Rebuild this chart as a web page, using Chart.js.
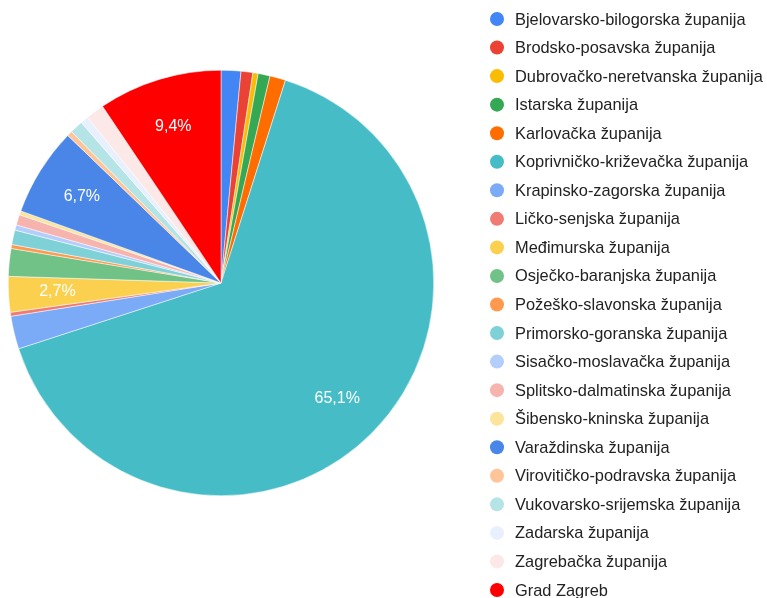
<!DOCTYPE html>
<html>
<head>
<meta charset="utf-8">
<script src="https://cdn.jsdelivr.net/npm/chart.js@4"></script>
<style>
  html, body { margin: 0; padding: 0; background: #fff; }
  #wrap { width: 767px; height: 598px; }
</style>
</head>
<body>
<div id="wrap"><canvas id="myChart" width="767" height="598"></canvas></div>
<script>
// zupanije (categories)
const labels = [
    'Bjelovarsko-bilogorska županija',
    'Brodsko-posavska županija',
    'Dubrovačko-neretvanska županija',
    'Istarska županija',
    'Karlovačka županija',
    'Koprivničko-križevačka županija',
    'Krapinsko-zagorska županija',
    'Ličko-senjska županija',
    'Međimurska županija',
    'Osječko-baranjska županija',
    'Požeško-slavonska županija',
    'Primorsko-goranska županija',
    'Sisačko-moslavačka županija',
    'Splitsko-dalmatinska županija',
    'Šibensko-kninska županija',
    'Varaždinska županija',
    'Virovitičko-podravska županija',
    'Vukovarsko-srijemska županija',
    'Zadarska županija',
    'Zagrebačka županija',
    'Grad Zagreb'
];

// udio u % (procjena sa slike)
const values = [1.5, 0.9, 0.4, 0.9, 1.2, 65.1, 2.5, 0.3, 2.7, 2.1, 0.3, 1.1, 0.4, 0.8, 0.3, 6.7, 0.4, 1.0, 0.6, 1.4, 9.4];

const colors = [
    '#4285f4', '#ea4335', '#fbbc04', '#34a853', '#ff6d01', '#46bdc6', '#7baaf7',
    '#f07b72', '#fcd04f', '#71c287', '#ff994d', '#7ed1d7', '#b3cefb', '#f7b4ae',
    '#fde49b', '#4a86e8', '#ffc599', '#b5e4e7', '#e8f0fe', '#fde8e8', '#ff0000'
];

// labels inside the slices (only for the bigger ones)
const sliceLabels = {
    id: 'sliceLabels',
    afterDatasetsDraw(chart) {
        const ctx = chart.ctx;
        const meta = chart.getDatasetMeta(0);
        const data = chart.data.datasets[0].data;
        const total = data.reduce((a, b) => a + b, 0);
        ctx.save();
        ctx.fillStyle = '#ffffff';
        ctx.font = '16px "Liberation Sans", Arial, sans-serif';
        ctx.textAlign = 'center';
        ctx.textBaseline = 'middle';
        meta.data.forEach((arc, i) => {
            const pct = data[i] / total * 100;
            if (pct < 2.6) return;
            const p = arc.getProps(['x', 'y', 'startAngle', 'endAngle', 'outerRadius'], true);
            const mid = (p.startAngle + p.endAngle) / 2;
            const r = p.outerRadius * 0.77;
            ctx.fillText(pct.toFixed(1).replace('.', ',') + '%', p.x + Math.cos(mid) * r, p.y + Math.sin(mid) * r);
        });
        ctx.restore();
    }
};

// legend on the right, drawn by hand so the rows fit
const sideLegend = {
    id: 'sideLegend',
    afterDraw(chart) {
        const ctx = chart.ctx;
        const ds = chart.data.datasets[0];
        ctx.save();
        ctx.font = '16.4px "Liberation Sans", Arial, sans-serif';
        ctx.textBaseline = 'middle';
        ctx.textAlign = 'left';
        chart.data.labels.forEach((lab, i) => {
            const y = 19 + i * 28.55;
            ctx.beginPath();
            ctx.arc(497, y, 7, 0, Math.PI * 2);
            ctx.fillStyle = ds.backgroundColor[i];
            ctx.fill();
            ctx.fillStyle = '#222222';
            ctx.fillText(lab, 515, y + 1);
        });
        ctx.restore();
    }
};

const ctx = document.getElementById('myChart').getContext('2d');
new Chart(ctx, {
    type: 'pie',
    data: {
        labels: labels,
        datasets: [{
            data: values,
            backgroundColor: colors,
            borderColor: '#ffffff',
            borderWidth: 0.5
        }]
    },
    options: {
        responsive: false,
        animation: false,
        layout: {
            padding: { left: 8, right: 333, top: 70, bottom: 102 }
        },
        plugins: {
            legend: { display: false },
            tooltip: { enabled: false }
        }
    },
    plugins: [sliceLabels, sideLegend]
});
</script>
</body>
</html>
